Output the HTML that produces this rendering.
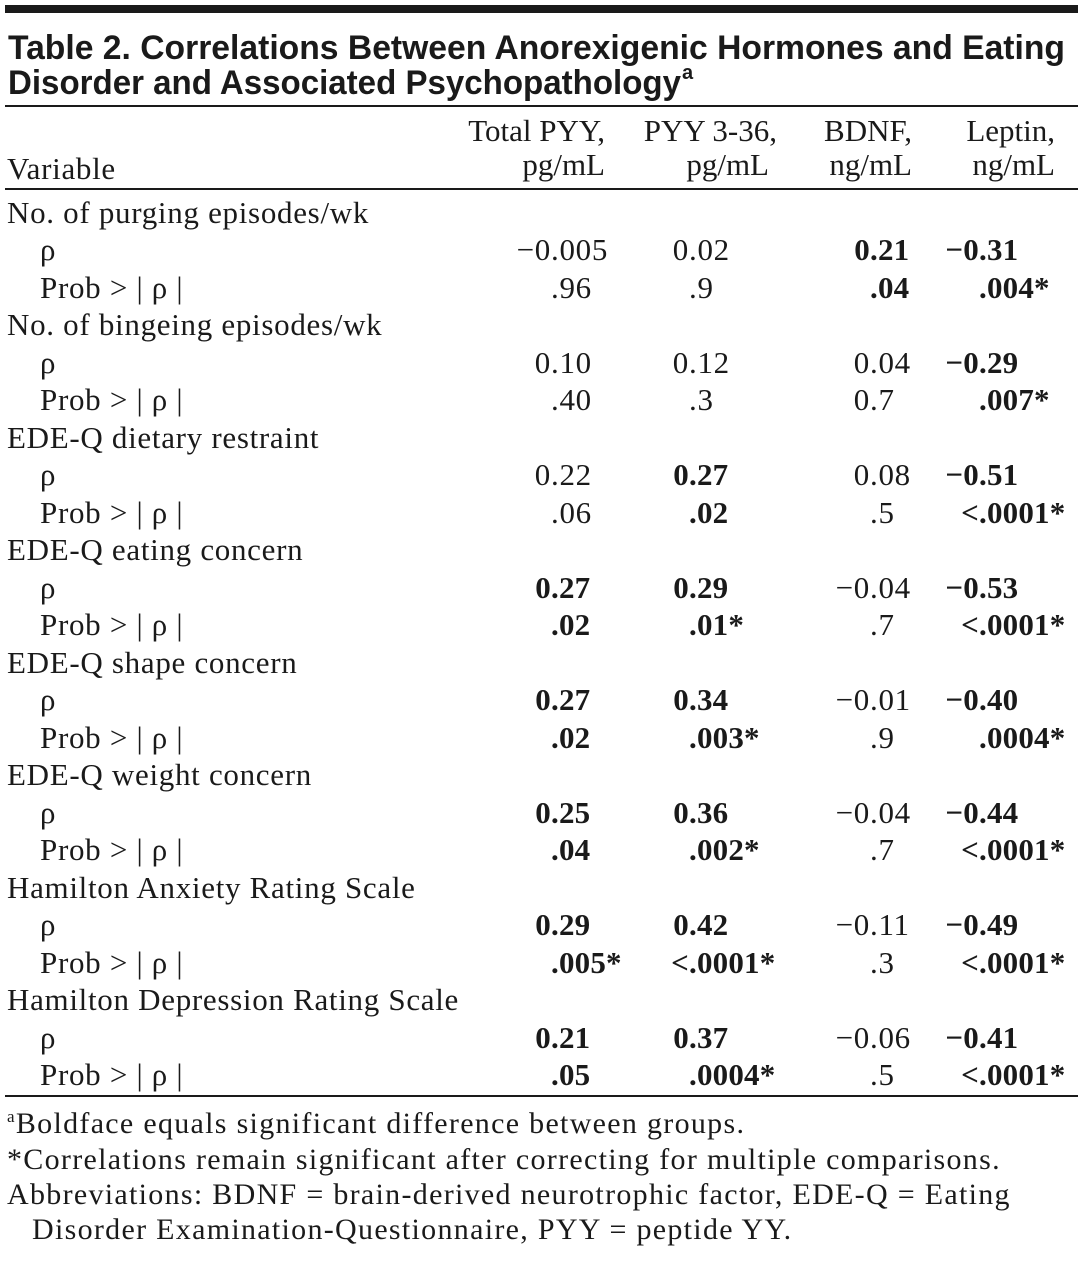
<!DOCTYPE html>
<html><head><meta charset="utf-8"><style>
html,body{margin:0;padding:0;background:#fff;}
body{width:1084px;height:1262px;position:relative;overflow:hidden;color:#1a1a1a;font-family:"Liberation Serif",serif;}
.t,.c,.h{position:absolute;white-space:nowrap;font-size:31px;line-height:1;letter-spacing:0.7px;}
.c .i{position:absolute;right:100%;}
.b{font-weight:bold;letter-spacing:0.2px;}
.rule{position:absolute;left:5px;width:1073px;background:#1a1a1a;}
.h{text-align:right;letter-spacing:0;}
.f{position:absolute;white-space:nowrap;font-size:30px;line-height:1;letter-spacing:1.3px;}
</style></head><body>
<div class="rule" style="top:5px;height:8px"></div>
<svg style="position:absolute;left:0;top:0" width="1084" height="110">
<text x="8" y="59" font-family="Liberation Sans, sans-serif" font-weight="bold" font-size="34" fill="#1a1a1a" textLength="1057" lengthAdjust="spacingAndGlyphs">Table 2. Correlations Between Anorexigenic Hormones and Eating</text>
<text x="8" y="94" font-family="Liberation Sans, sans-serif" font-weight="bold" font-size="34" fill="#1a1a1a" textLength="673" lengthAdjust="spacingAndGlyphs">Disorder and Associated Psychopathology</text>
<text x="682" y="79" font-family="Liberation Sans, sans-serif" font-weight="bold" font-size="20" fill="#1a1a1a">a</text>
</svg>
<div class="rule" style="top:105px;height:2px"></div>
<div class="t" style="left:7px;top:153px">Variable</div>
<div class="h" style="right:479px;top:115px">Total PYY,<br><span style="line-height:38px">pg/mL</span></div>
<div class="h" style="right:307px;top:115px">PYY 3-36,<br><span style="line-height:38px;margin-right:8px">pg/mL</span></div>
<div class="h" style="right:172px;top:115px">BDNF,<br><span style="line-height:38px">ng/mL</span></div>
<div class="h" style="right:29px;top:115px">Leptin,<br><span style="line-height:38px">ng/mL</span></div>
<div class="rule" style="top:188px;height:2px"></div>
<div id="rows"></div>
<div class="rule" style="top:1095px;height:2px"></div>
<div class="f" style="left:7px;top:1108px"><sup style="font-size:17px">a</sup>Boldface equals significant difference between groups.</div>
<div class="f" style="left:7px;top:1145px">*Correlations remain significant after correcting for multiple comparisons.</div>
<div class="f" style="left:7px;top:1180px">Abbreviations: BDNF = brain-derived neurotrophic factor, EDE-Q = Eating</div>
<div class="f" style="left:32px;top:1215px">Disorder Examination-Questionnaire, PYY = peptide YY.</div>
<script>
const variables=["No. of purging episodes/wk","No. of bingeing episodes/wk","EDE-Q dietary restraint","EDE-Q eating concern","EDE-Q shape concern","EDE-Q weight concern","Hamilton Anxiety Rating Scale","Hamilton Depression Rating Scale"];
const rhoVals=[["−0.005","0.02","0.21b","−0.31b"],["0.10","0.12","0.04","−0.29b"],["0.22","0.27b","0.08","−0.51b"],["0.27b","0.29b","−0.04","−0.53b"],["0.27b","0.34b","−0.01","−0.40b"],["0.25b","0.36b","−0.04","−0.44b"],["0.29b","0.42b","−0.11","−0.49b"],["0.21b","0.37b","−0.06","−0.41b"]];
const probVals=[[".96",".9",".04b",".004*b"],[".40",".3","0.7",".007*b"],[".06",".02b",".5","<.0001*b"],[".02b",".01*b",".7","<.0001*b"],[".02b",".003*b",".9",".0004*b"],[".04b",".002*b",".7","<.0001*b"],[".005*b","<.0001*b",".3","<.0001*b"],[".05b",".0004*b",".5","<.0001*b"]];
const colX=[551,689,870,979];
const root=document.getElementById('rows');
const pitch=37.48, top0=197;
function cell(txt,x,y,name){
  const bold=txt.endsWith('b'); if(bold) txt=txt.slice(0,-1);
  const d=document.createElement('span');
  d.className='c'+(bold?' b':'');
  
  
  d.style.left=x+'px'; d.style.top=y+'px';
  const k=txt.indexOf('.');
  const pre=txt.slice(0,k), post=txt.slice(k);
  const i=document.createElement('span'); i.className='i'; i.textContent=pre;
  d.appendChild(i); d.appendChild(document.createTextNode(post));
  root.appendChild(d);
}
function label(txt,x,y,name){
  const d=document.createElement('div'); d.className='t';
  
  
  d.style.left=x+'px'; d.style.top=y+'px'; d.textContent=txt; root.appendChild(d);
}
variables.forEach((v,r)=>{
  const y=top0+r*3*pitch;
  label(v,7,y,'variable-label');
  label('ρ',40,y+pitch,'rho-label');
  label('Prob > | ρ |',40,y+2*pitch,'prob-label');
  rhoVals[r].forEach((t,c)=>cell(t,colX[c],y+pitch,'rho-value'));
  probVals[r].forEach((t,c)=>cell(t,colX[c],y+2*pitch,'prob-value'));
});
</script>
</body></html>
